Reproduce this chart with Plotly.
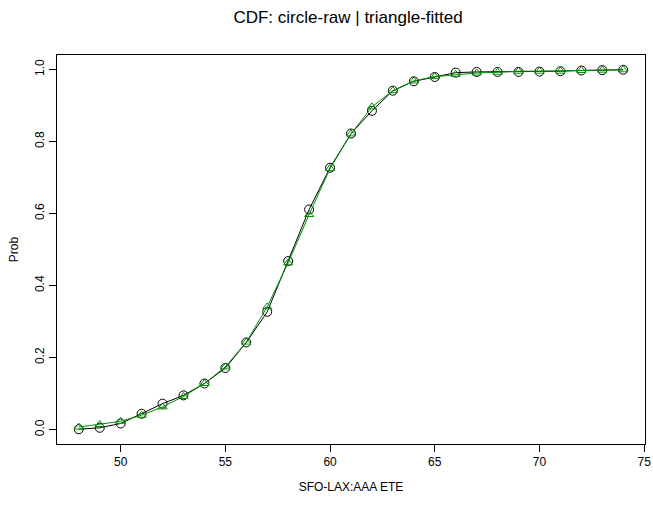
import plotly.graph_objects as go

# SFO-LAX:AAA ETE values
ete = list(range(48, 75))

# empirical CDF (circles)
prob_raw = [0.001, 0.005, 0.017, 0.044, 0.072, 0.095, 0.128, 0.171, 0.242, 0.327,
            0.468, 0.611, 0.727, 0.822, 0.885, 0.941, 0.967, 0.979, 0.991, 0.993,
            0.993, 0.993, 0.994, 0.995, 0.997, 0.998, 0.999]

# fitted CDF (triangles)
prob_fit = [0.007, 0.014, 0.023, 0.040, 0.063, 0.092, 0.128, 0.174, 0.243, 0.341,
            0.463, 0.597, 0.725, 0.821, 0.896, 0.941, 0.968, 0.980, 0.986, 0.990,
            0.992, 0.995, 0.995, 0.995, 0.997, 0.998, 0.999]

font = "Liberation Sans, Arial, Helvetica, sans-serif"

fig = go.Figure()

fig.add_trace(go.Scatter(
    x=ete, y=prob_raw, mode="lines+markers", name="raw",
    line=dict(color="black", width=1),
    marker=dict(symbol="circle-open", size=9, color="black", line=dict(width=1))
))
fig.add_trace(go.Scatter(
    x=ete, y=prob_fit, mode="lines+markers", name="fitted",
    line=dict(color="#009000", width=1),
    marker=dict(symbol="triangle-up-open", size=8, color="#009000", line=dict(width=1))
))

fig.update_layout(
    width=653, height=506,
    margin=dict(l=57, r=8, t=55, b=62, autoexpand=False),
    paper_bgcolor="white", plot_bgcolor="white",
    showlegend=False,
    font=dict(family=font, size=12, color="black"),
    title=dict(text="CDF: circle-raw | triangle-fitted", x=0.533, xanchor="center",
               y=0.967, yanchor="middle", font=dict(size=17, color="black")),
)

fig.update_xaxes(
    range=[46.96, 75.04], tickvals=[50, 55, 60, 65, 70, 75],
    showgrid=False, zeroline=False, automargin=False,
    showline=True, linecolor="black", linewidth=1, mirror=True,
    ticks="outside", ticklen=7, tickcolor="black",
    title=dict(text="SFO-LAX:AAA ETE", standoff=14, font=dict(size=12)),
)
fig.update_yaxes(
    range=[-0.04, 1.04], tickvals=[0, 0.2, 0.4, 0.6, 0.8, 1.0],
    ticktext=["0.0", "0.2", "0.4", "0.6", "0.8", "1.0"], tickangle=-90,
    showgrid=False, zeroline=False, automargin=False,
    showline=True, linecolor="black", linewidth=1, mirror=True,
    ticks="outside", ticklen=7, tickcolor="black",
    title=dict(text="Prob", standoff=12, font=dict(size=12)),
)

# drop the default page margin so the figure sits at the window's top-left
fig.write_html("out.html", config={"displayModeBar": False},
               post_script="document.body.style.margin='0px';")
